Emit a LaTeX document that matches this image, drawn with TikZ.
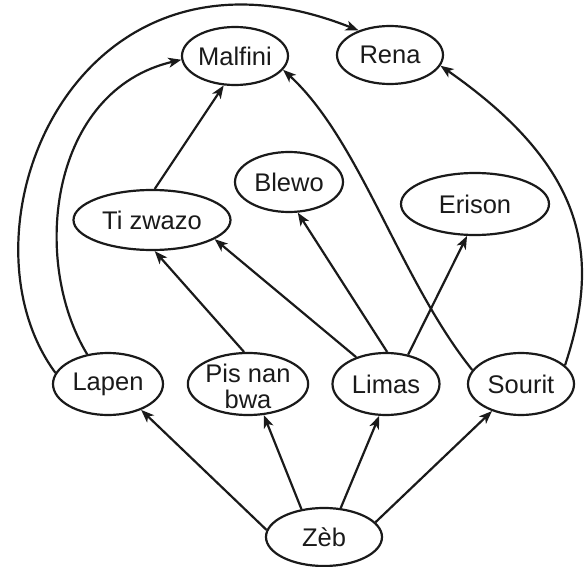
\documentclass[tikz,border=0pt]{standalone}
\usepackage{fontspec}
\setmainfont{Liberation Sans}
\usetikzlibrary{shapes.geometric,arrows.meta}
\definecolor{ink}{HTML}{1A1A1A}
\begin{document}
\begin{tikzpicture}[x=1pt,y=-1pt,
  nd/.style={ellipse,draw=ink,line width=2.2pt,inner sep=0pt,font=\fontsize{25.5}{23}\selectfont,align=center,text=ink},
  ar/.style={draw=ink,line width=2.2pt,-{Stealth[length=13pt,width=10pt,inset=3.5pt]}}]
\useasboundingbox (0,0) rectangle (584,567);
\node[nd,minimum width=106pt,minimum height=58pt] (mal) at (235,56) {Malfini};
\node[nd,minimum width=106pt,minimum height=58pt] (ren) at (390,55) {Rena};
\node[nd,minimum width=108pt,minimum height=60pt] (ble) at (289,182) {Blewo};
\node[nd,minimum width=157pt,minimum height=60pt] (tiz) at (152,220) {Ti zwazo};
\node[nd,minimum width=148pt,minimum height=62pt] (eri) at (475,204) {Erison};
\node[nd,minimum width=110pt,minimum height=62pt] (lap) at (108,384) {Lapen};
\node[nd,minimum width=108pt,minimum height=62pt] (pis) at (248,384) {\raisebox{-24pt}[0pt][0pt]{\begin{tabular}[b]{@{}c@{}}Pis nan\\bwa\end{tabular}}};
\node[nd,minimum width=107pt,minimum height=62pt] (lim) at (386,384) {Limas};
\node[nd,minimum width=106pt,minimum height=62pt] (sou) at (521,384) {Sourit};
\node[nd,minimum width=116pt,minimum height=58pt] (zeb) at (324,537) {Zèb};
\draw[ar] (zeb.173) -- (lap.322);
\draw[ar] (zeb.129) -- (pis.297);
\draw[ar] (zeb.60) -- (lim.258);
\draw[ar] (zeb.16) -- (sou.223);
\draw[ar] (pis.97) -- (tiz.275);
\draw[ar] (lim.138) -- (tiz.343);
\draw[ar] (lim.88) -- (ble.286);
\draw[ar] (lim.53) -- (eri.256);
\draw[ar] (tiz.85) -- (mal.249);
\draw[ar] (lap.125) .. controls (30,260) and (50,90) .. (mal.184);
\draw[ar] (lap.168) .. controls (-50,230) and (75,-82) .. (ren.142);
\draw[ar] (sou.164) .. controls (400,280) and (360,140) .. (mal.344);
\draw[ar] (sou.23) .. controls (600,260) and (590,170) .. (ren.348);
\end{tikzpicture}
\end{document}
